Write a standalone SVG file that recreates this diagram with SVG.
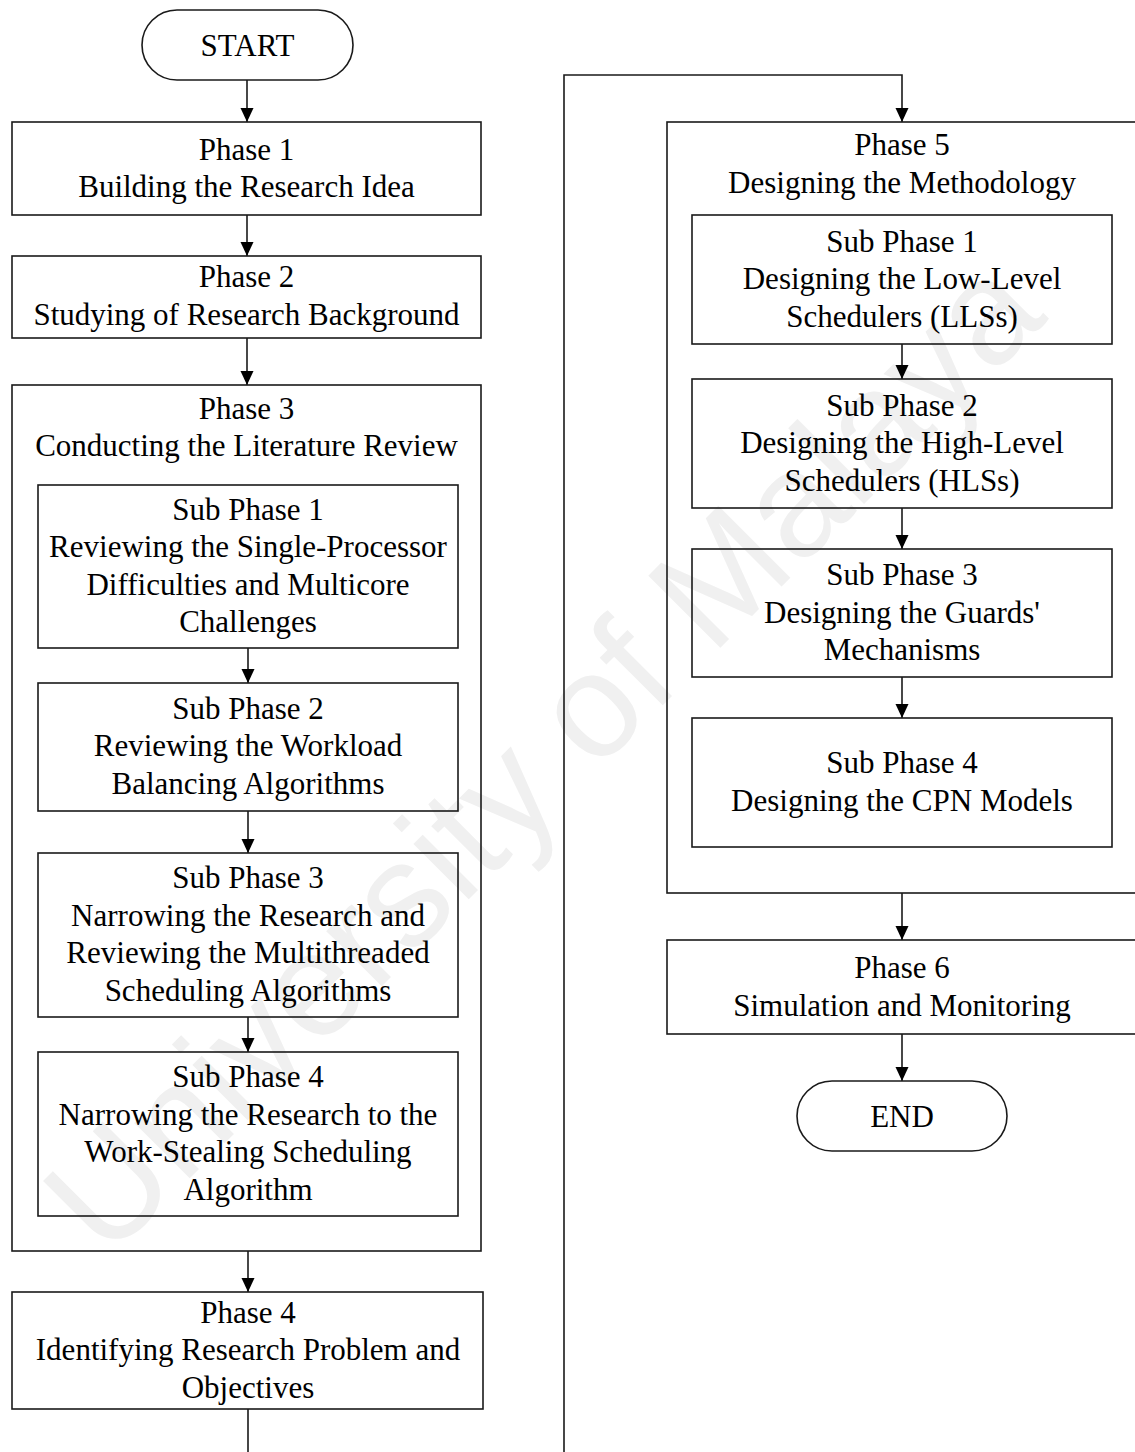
<svg xmlns="http://www.w3.org/2000/svg" width="1135" height="1452" viewBox="0 0 1135 1452">
  <style>
    .box { fill: none; stroke: #1a1a1a; stroke-width: 1.6; }
    .term { fill: none; stroke: #1a1a1a; stroke-width: 1.6; }
    .lbl { font-family: "Liberation Serif", "Times New Roman", serif; font-size: 31px; fill: #000; text-anchor: middle; }
    .edge { fill: none; stroke: #1a1a1a; stroke-width: 1.6; marker-end: url(#arrow); }
    .wm { font-family: "Liberation Sans", Arial, sans-serif; font-size: 148px; fill: #f0f0f0; text-anchor: middle; }
  </style>
  <defs>
    <marker id="arrow" viewBox="0 0 14 14" refX="14" refY="7" markerWidth="14" markerHeight="14" markerUnits="userSpaceOnUse" orient="auto">
      <path d="M0,0.5 L14,7 L0,13.5 Z" fill="#000"/>
    </marker>
  </defs>

  <rect width="1135" height="1452" fill="#fff"/>

  <!-- background watermark -->
  <text class="wm" x="578" y="790" transform="rotate(-45 578 790)">University of Malaya</text>

  <!-- connectors -->
  <g id="connectors">
    <path class="edge" d="M247,80 V122"/>
    <path class="edge" d="M247,215 V256"/>
    <path class="edge" d="M247,338 V385"/>
    <path class="edge" d="M248,648 V683"/>
    <path class="edge" d="M248,811 V853"/>
    <path class="edge" d="M248,1017 V1052"/>
    <path class="edge" d="M248,1251 V1292"/>
    <path class="edge" d="M248,1409 V1470 H564 V75 H902 V122"/>
    <path class="edge" d="M902,344 V379"/>
    <path class="edge" d="M902,508 V549"/>
    <path class="edge" d="M902,677 V718"/>
    <path class="edge" d="M902,893 V940"/>
    <path class="edge" d="M902,1034 V1081"/>
  </g>

  <!-- left column -->
  <g id="start">
    <rect class="term" x="142" y="10" width="211" height="70" rx="35" ry="35"/>
    <text class="lbl" x="247.5" y="56">START</text>
  </g>

  <g id="phase1">
    <rect class="box" x="12" y="122" width="469" height="93"/>
    <text class="lbl" x="246.5" y="160">Phase 1</text>
    <text class="lbl" x="246.5" y="197">Building the Research Idea</text>
  </g>

  <g id="phase2">
    <rect class="box" x="12" y="256" width="469" height="82"/>
    <text class="lbl" x="246.5" y="287">Phase 2</text>
    <text class="lbl" x="246.5" y="325">Studying of Research Background</text>
  </g>

  <g id="phase3">
    <rect class="box" x="12" y="385" width="469" height="866"/>
    <text class="lbl" x="246.5" y="419">Phase 3</text>
    <text class="lbl" x="246.5" y="456">Conducting the Literature Review</text>
  </g>

  <g id="p3-sub1">
    <rect class="box" x="38" y="485" width="420" height="163"/>
    <text class="lbl" x="248" y="520">Sub Phase 1</text>
    <text class="lbl" x="248" y="557">Reviewing the Single-Processor</text>
    <text class="lbl" x="248" y="595">Difficulties and Multicore</text>
    <text class="lbl" x="248" y="632">Challenges</text>
  </g>

  <g id="p3-sub2">
    <rect class="box" x="38" y="683" width="420" height="128"/>
    <text class="lbl" x="248" y="719">Sub Phase 2</text>
    <text class="lbl" x="248" y="756">Reviewing the Workload</text>
    <text class="lbl" x="248" y="794">Balancing Algorithms</text>
  </g>

  <g id="p3-sub3">
    <rect class="box" x="38" y="853" width="420" height="164"/>
    <text class="lbl" x="248" y="888">Sub Phase 3</text>
    <text class="lbl" x="248" y="926">Narrowing the Research and</text>
    <text class="lbl" x="248" y="963">Reviewing the Multithreaded</text>
    <text class="lbl" x="248" y="1001">Scheduling Algorithms</text>
  </g>

  <g id="p3-sub4">
    <rect class="box" x="38" y="1052" width="420" height="164"/>
    <text class="lbl" x="248" y="1087">Sub Phase 4</text>
    <text class="lbl" x="248" y="1125">Narrowing the Research to the</text>
    <text class="lbl" x="248" y="1162">Work-Stealing Scheduling</text>
    <text class="lbl" x="248" y="1200">Algorithm</text>
  </g>

  <g id="phase4">
    <rect class="box" x="12" y="1292" width="471" height="117"/>
    <text class="lbl" x="248" y="1323">Phase 4</text>
    <text class="lbl" x="248" y="1360">Identifying Research Problem and</text>
    <text class="lbl" x="248" y="1398">Objectives</text>
  </g>

  <!-- right column -->
  <g id="phase5">
    <rect class="box" x="667" y="122" width="470" height="771"/>
    <text class="lbl" x="902" y="155">Phase 5</text>
    <text class="lbl" x="902" y="193">Designing the Methodology</text>
  </g>

  <g id="p5-sub1">
    <rect class="box" x="692" y="215" width="420" height="129"/>
    <text class="lbl" x="902" y="252">Sub Phase 1</text>
    <text class="lbl" x="902" y="289">Designing the Low-Level</text>
    <text class="lbl" x="902" y="327">Schedulers (LLSs)</text>
  </g>

  <g id="p5-sub2">
    <rect class="box" x="692" y="379" width="420" height="129"/>
    <text class="lbl" x="902" y="416">Sub Phase 2</text>
    <text class="lbl" x="902" y="453">Designing the High-Level</text>
    <text class="lbl" x="902" y="491">Schedulers (HLSs)</text>
  </g>

  <g id="p5-sub3">
    <rect class="box" x="692" y="549" width="420" height="128"/>
    <text class="lbl" x="902" y="585">Sub Phase 3</text>
    <text class="lbl" x="902" y="623">Designing the Guards'</text>
    <text class="lbl" x="902" y="660">Mechanisms</text>
  </g>

  <g id="p5-sub4">
    <rect class="box" x="692" y="718" width="420" height="129"/>
    <text class="lbl" x="902" y="773">Sub Phase 4</text>
    <text class="lbl" x="902" y="811">Designing the CPN Models</text>
  </g>

  <g id="phase6">
    <rect class="box" x="667" y="940" width="470" height="94"/>
    <text class="lbl" x="902" y="978">Phase 6</text>
    <text class="lbl" x="902" y="1016">Simulation and Monitoring</text>
  </g>

  <g id="end">
    <rect class="term" x="797" y="1081" width="210" height="70" rx="35" ry="35"/>
    <text class="lbl" x="902" y="1127">END</text>
  </g>
</svg>
